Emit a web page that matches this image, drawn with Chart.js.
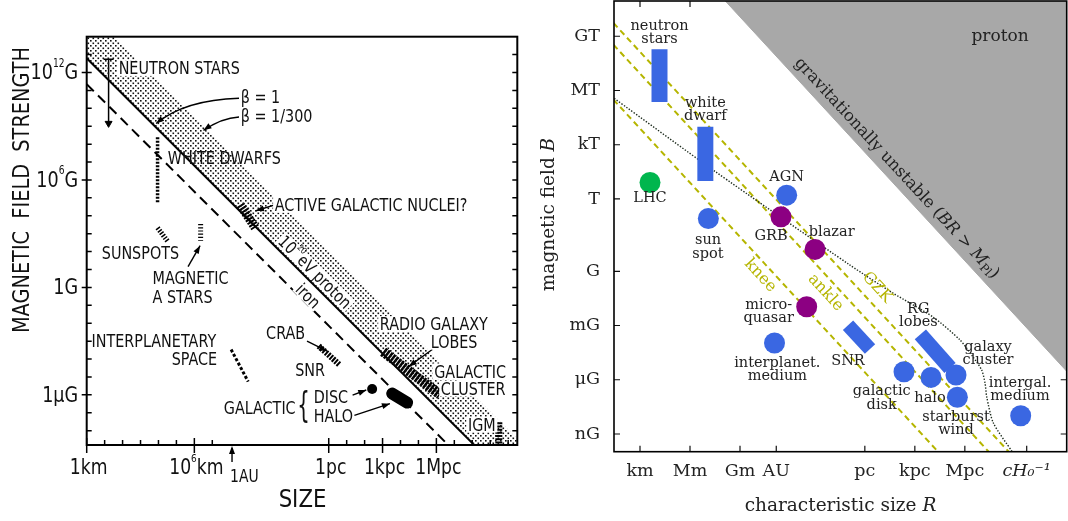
<!DOCTYPE html>
<html>
<head>
<meta charset="utf-8">
<script src="https://cdn.jsdelivr.net/npm/chart.js@4.4.0/dist/chart.umd.min.js"></script>
<style>
  html, body { margin: 0; padding: 0; background: #fff; }
  #wrap { position: relative; width: 1068px; height: 521px; }
  canvas { position: absolute; top: 0; }
  #hillas { left: 0; }
  #modern { left: 530px; }
</style>
</head>
<body>
<div id="wrap">
  <canvas id="hillas" width="530" height="521"></canvas>
  <canvas id="modern" width="538" height="521"></canvas>
</div>
<script>
// ---------- left panel: log10(size / km) against log10(B / gauss)
const hillasSizeTicks = [0, 6, 13.49, 16.49, 19.49];
const hillasSizeLabels = ['1km', '10^{6}km', '1pc', '1kpc', '1Mpc'];
const hillasSizeMinor = [1, 2, 3, 4, 5, 7, 14.49, 15.49, 17.49, 18.49, 20.49, 21.49, 22.49, 23.49];
const hillasFieldTicks = [12, 6, 0, -6];
const hillasFieldLabels = ['10^{12}G', '10^{6}G', '1G', '1μG'];
const hillasFieldAll = [-8, -7, -6, -5, -4, -3, -2, -1, 0, 1, 2, 3, 4, 5, 6, 7, 8, 9, 10, 11, 12, 13];

const betaOneX = [0, 24];
const betaOneY = [12.8, -11.2];
const betaSlowX = [0, 24];
const betaSlowY = [15.55, -8.45];
const ironX = [0, 24];
const ironY = [11.35, -12.65];

const hillasObjects = ['white dwarfs', 'sunspots', 'magnetic A stars', 'AGN', 'interplanetary space',
  'crab SNR', 'radio galaxy lobes', 'IGM', 'galactic halo'];
const hillasObjX0 = [3.95, 3.95, 6.35, 8.56, 8.05, 12.93, 16.52, 22.97, 17.03];
const hillasObjY0 = [8.39, 3.33, 3.54, 4.61, -3.47, -3.27, -3.59, -7.53, -5.93];
const hillasObjX1 = [3.95, 4.53, 6.35, 9.39, 9.0, 14.07, 19.7, 22.97, 17.86];
const hillasObjY1 = [4.70, 2.55, 2.6, 3.33, -5.26, -4.3, -5.99, -9.04, -6.43];
const discX = [15.91];
const discY = [-5.67];
const neutronLimitX = [1.22, 1.22];
const neutronLimitY = [12.74, 9.16];

// ---------- right panel: log10(R / m) against log10(B / gauss)
const sizeTicks = [3, 6, 9, 11.175, 16.489, 19.489, 22.489, 26.2];
const sizeLabels = ['km', 'Mm', 'Gm', 'AU', 'pc', 'kpc', 'Mpc', 'cH₀⁻¹'];
const fieldTicks = [13, 10, 7, 4, 0, -3, -6, -9];
const fieldLabels = ['GT', 'MT', 'kT', 'T', 'G', 'mG', 'μG', 'nG'];

const blueNames = ['AGN', 'sun spot', 'interplanet. medium', 'galactic disk', 'halo', 'galaxy cluster', 'starburst wind', 'intergal. medium'];
const blueX = [11.8, 7.1, 11.07, 18.84, 20.46, 21.96, 22.04, 25.84];
const blueY = [4.21, 2.92, -3.97, -5.56, -5.87, -5.74, -6.97, -7.99];
const purpleNames = ['GRB', 'blazar', 'microquasar'];
const purpleX = [11.46, 13.5, 13.0];
const purpleY = [3.01, 1.21, -1.96];
const greenNames = ['LHC'];
const greenX = [3.6];
const greenY = [4.91];

const barNames = ['neutron stars', 'white dwarf', 'SNR', 'RG lobes'];
const barX0 = [4.17, 6.92, 15.48, 19.82];
const barY0 = [12.28, 7.99, -2.98, -3.49];
const barX1 = [4.17, 6.92, 16.80, 21.6];
const barY1 = [9.37, 5.0, -4.30, -5.35];

const kneeX = [1, 21.5];
const kneeY = [9.9, -10.6];
const ankleX = [1, 24.5];
const ankleY = [12.94, -10.56];
const gzkX = [1, 25.7];
const gzkY = [14.14, -10.56];
const unstableX = [7, 28.6];
const unstableY = [16.07, -5.53];
const lossX = [1.46, 7.40, 15.60, 18.18, 20.58, 22.20, 22.98, 23.50, 23.70, 23.80, 24.20, 25.33];
const lossY = [9.56, 5.59, 0.34, -1.21, -2.53, -3.80, -4.74, -5.46, -6.18, -6.94, -8.39, -9.98];

// label anchors (data units)
const hillasNotes = [
  ['NEUTRON STARS', 1.78, 12.25, 'left', true],
  ['β = 1', 8.59, 10.66, 'left', false],
  ['β = 1/300', 8.59, 9.58, 'left', false],
  ['WHITE DWARFS', 4.52, 7.26, 'left', false],
  ['ACTIVE GALACTIC NUCLEI?', 10.48, 4.61, 'left', true],
  ['SUNSPOTS', 0.84, 1.96, 'left', false],
  ['MAGNETIC', 3.67, 0.56, 'left', false],
  ['A STARS', 3.67, -0.53, 'left', false],
  ['INTERPLANETARY', 0.27, -2.99, 'left', false],
  ['SPACE', 7.27, -3.98, 'right', false],
  ['CRAB', 10.0, -2.53, 'left', false],
  ['SNR', 11.62, -4.6, 'left', false],
  ['GALACTIC', 7.64, -6.71, 'left', false],
  ['DISC', 12.65, -6.09, 'left', false],
  ['HALO', 12.65, -7.15, 'left', false],
  ['RADIO GALAXY', 16.34, -2.05, 'left', true],
  ['LOBES', 19.17, -3.03, 'left', true],
  ['GALACTIC', 19.37, -4.69, 'left', true],
  ['CLUSTER', 19.74, -5.64, 'left', true],
  ['IGM', 21.25, -7.66, 'left', true]
];
const hillasArrows = [
  [8.49, 10.56, 5.48, 10.47, 3.87, 9.15],
  [8.49, 9.52, 7.53, 9.47, 6.51, 8.77],
  [10.48, 4.61, null, null, 9.44, 4.28],
  [5.65, 1.16, null, null, 6.32, 2.33],
  [12.28, -3.0, null, null, 13.4, -3.56],
  [14.82, -6.02, null, null, 15.58, -5.73],
  [14.92, -7.15, null, null, 16.9, -6.49],
  [19.26, -3.47, null, null, 17.95, -4.41]
];
const sourceNotes = [
  ['neutron\nstars', 4.17, 13.55], ['white\ndwarf', 6.92, 9.31], ['LHC', 3.6, 4.02],
  ['AGN', 11.8, 5.19], ['sun\nspot', 7.08, 1.70], ['GRB', 10.86, 1.94], ['blazar', 14.5, 2.18],
  ['micro-\nquasar', 10.72, -1.87], ['interplanet.\nmedium', 11.24, -5.08], ['SNR', 15.48, -4.97],
  ['galactic\ndisk', 17.5, -6.66], ['halo', 20.4, -7.03], ['RG\nlobes', 19.7, -2.11],
  ['galaxy\ncluster', 23.88, -4.18], ['starburst\nwind', 21.96, -8.08], ['intergal.\nmedium', 25.8, -6.2]
];
const energyNotes = [['knee', 10.21, -0.24], ['ankle', 14.13, -1.18], ['GZK', 17.22, -0.9]];

const blue = '#3a67e2', purple = '#8c0082', green = '#00b64e', olive = '#b5b500';
const dot = (xs, ys) => xs.map((x, i) => ({ x, y: ys[i] }));
const seg = (x0, y0, x1, y1, i) => [{ x: x0[i], y: y0[i] }, { x: x1[i], y: y1[i] }];

// ---------- lettering helpers
function splitSup(str) {
  const out = [];
  const re = /\^\{([^}]*)\}/g;
  let last = 0, m;
  while ((m = re.exec(str))) {
    if (m.index > last) out.push([str.slice(last, m.index), false]);
    out.push([m[1], true]);
    last = re.lastIndex;
  }
  if (last < str.length) out.push([str.slice(last), false]);
  return out;
}

function letter(ctx, str, x, y, size, align, opt) {
  opt = opt || {};
  const sx = opt.sx || 0.82;
  const ps = splitSup(str);
  const fontOf = sup => `${sup ? size * 0.52 : size}px "DejaVu Sans"`;
  const ws = ps.map(([t, sup]) => { ctx.font = fontOf(sup); return ctx.measureText(t).width; });
  const w = ws.reduce((s, v) => s + v, 0);
  ctx.save();
  ctx.translate(x, y);
  ctx.rotate(opt.rot || 0);
  ctx.scale(sx, 1);
  let cx = align === 'right' ? -w : align === 'center' ? -w / 2 : 0;
  if (opt.bg) {
    ctx.fillStyle = '#fff';
    ctx.fillRect(cx - 2, -size * 0.45, w + 4, size * 0.9);
  }
  ctx.fillStyle = '#111';
  ctx.textAlign = 'left';
  ctx.textBaseline = 'alphabetic';
  ps.forEach(([t, sup], i) => {
    ctx.font = fontOf(sup);
    ctx.fillText(t, cx, sup ? -size * 0.22 : size * 0.36);
    cx += ws[i];
  });
  ctx.restore();
}

function rich(ctx, pieces, x, y, size, rot) {
  const fontOf = p => `${p[1] || 'normal'} ${size * (p[2] || 1)}px "DejaVu Serif"`;
  let w = 0;
  const ws = pieces.map(p => { ctx.font = fontOf(p); const m = ctx.measureText(p[0]).width; w += m; return m; });
  ctx.save();
  ctx.translate(x, y);
  ctx.rotate(rot || 0);
  ctx.textAlign = 'left';
  ctx.textBaseline = 'middle';
  let cx = -w / 2;
  pieces.forEach((p, i) => { ctx.font = fontOf(p); ctx.fillText(p[0], cx, p[3] || 0); cx += ws[i]; });
  ctx.restore();
}

function arrowHead(ctx, fx, fy, tx, ty) {
  const a = Math.atan2(ty - fy, tx - fx);
  ctx.beginPath();
  ctx.moveTo(tx, ty);
  ctx.lineTo(tx - 8 * Math.cos(a) + 3 * Math.sin(a), ty - 8 * Math.sin(a) - 3 * Math.cos(a));
  ctx.lineTo(tx - 8 * Math.cos(a) - 3 * Math.sin(a), ty - 8 * Math.sin(a) + 3 * Math.cos(a));
  ctx.closePath();
  ctx.fill();
}

// ---------- left panel decorations
const hillasDeco = {
  id: 'hillasDeco',
  afterDatasetsDraw(chart) {
    const { ctx, chartArea: a, scales: { x, y } } = chart;
    ctx.save();
    ctx.strokeStyle = '#000';
    ctx.fillStyle = '#000';
    ctx.lineWidth = 2;
    ctx.strokeRect(a.left, a.top, a.right - a.left, a.bottom - a.top);

    ctx.lineWidth = 1.5;
    ctx.beginPath();
    hillasSizeMinor.forEach(v => { const p = x.getPixelForValue(v); ctx.moveTo(p, a.bottom); ctx.lineTo(p, a.bottom - 5); });
    hillasSizeTicks.forEach(v => { const p = x.getPixelForValue(v); ctx.moveTo(p, a.bottom - 7); ctx.lineTo(p, a.bottom + 8); });
    hillasFieldAll.forEach(v => {
      const p = y.getPixelForValue(v);
      const major = hillasFieldTicks.includes(v);
      ctx.moveTo(a.left - (major ? 5 : 0), p); ctx.lineTo(a.left + 5, p);
      ctx.moveTo(a.right, p); ctx.lineTo(a.right - 5, p);
    });
    ctx.stroke();

    // arrows
    ctx.lineWidth = 1.4;
    hillasArrows.forEach(([x0, y0, cxv, cyv, x1, y1]) => {
      const fx = x.getPixelForValue(x0), fy = y.getPixelForValue(y0);
      const tx = x.getPixelForValue(x1), ty = y.getPixelForValue(y1);
      ctx.beginPath();
      ctx.moveTo(fx, fy);
      if (cxv !== null) {
        const qx = x.getPixelForValue(cxv), qy = y.getPixelForValue(cyv);
        ctx.quadraticCurveTo(qx, qy, tx, ty);
        ctx.stroke();
        arrowHead(ctx, qx, qy, tx, ty);
      } else {
        ctx.lineTo(tx, ty);
        ctx.stroke();
        arrowHead(ctx, fx, fy, tx, ty);
      }
    });

    // texts inside
    hillasNotes.forEach(([t, nx, ny, al, bg]) => letter(ctx, t, x.getPixelForValue(nx), y.getPixelForValue(ny), 17.5, al, { bg }));
    letter(ctx, '{', x.getPixelForValue(12.09), y.getPixelForValue(-6.63) - 2, 36, 'center', { sx: 0.55 });
    const rot = Math.atan2(y.getPixelForValue(-1) - y.getPixelForValue(0), x.getPixelForValue(1) - x.getPixelForValue(0));
    letter(ctx, '10^{20}eV proton', x.getPixelForValue(12.73), y.getPixelForValue(0.87), 17, 'center', { rot, bg: true });
    letter(ctx, 'iron', x.getPixelForValue(12.35), y.getPixelForValue(-0.46), 17, 'center', { rot, bg: true });

    // tick labels and titles
    hillasFieldTicks.forEach((v, i) => letter(ctx, hillasFieldLabels[i], a.left - 8.5, y.getPixelForValue(v) - 1, 22, 'right', { sx: 0.8 }));
    hillasSizeTicks.forEach((v, i) => letter(ctx, hillasSizeLabels[i], x.getPixelForValue(v) + 2, a.bottom + 21.7, 21, 'center'));
    const au = x.getPixelForValue(8.1);
    ctx.lineWidth = 1.4;
    ctx.beginPath(); ctx.moveTo(au, a.bottom + 17); ctx.lineTo(au, a.bottom + 3); ctx.stroke();
    arrowHead(ctx, au, a.bottom + 17, au, a.bottom + 1);
    letter(ctx, '1AU', au - 2, a.bottom + 30.7, 17, 'left');
    letter(ctx, 'SIZE', (a.left + a.right) / 2 + 0.5, a.bottom + 52.5, 25, 'center', { sx: 0.85 });
    ctx.save();
    ctx.translate(a.left - 66, a.top + 153.3);
    ctx.rotate(-Math.PI / 2);
    letter(ctx, 'MAGNETIC  FIELD  STRENGTH', 0, 0, 23, 'center', { sx: 0.84 });
    ctx.restore();
    ctx.restore();
  }
};

// ---------- right panel decorations
const modernDeco = {
  id: 'modernDeco',
  beforeDatasetsDraw(chart) {
    const { ctx, chartArea: a, scales: { x, y } } = chart;
    ctx.save();
    ctx.strokeStyle = '#111';
    ctx.lineWidth = 1.2;
    ctx.beginPath();
    sizeTicks.forEach(v => {
      const p = x.getPixelForValue(v);
      ctx.moveTo(p, a.bottom); ctx.lineTo(p, a.bottom - 6);
      ctx.moveTo(p, a.top); ctx.lineTo(p, a.top + 6);
    });
    fieldTicks.forEach(v => {
      const p = y.getPixelForValue(v);
      ctx.moveTo(a.left, p); ctx.lineTo(a.left + 6, p);
      ctx.moveTo(a.right, p); ctx.lineTo(a.right - 6, p);
    });
    ctx.stroke();
    ctx.restore();
  },
  afterDatasetsDraw(chart) {
    const { ctx, chartArea: a, scales: { x, y } } = chart;
    ctx.save();
    ctx.strokeStyle = '#000';
    ctx.lineWidth = 1.6;
    ctx.strokeRect(a.left, a.top, a.right - a.left, a.bottom - a.top);

    ctx.fillStyle = '#222';
    ctx.textAlign = 'center';
    ctx.textBaseline = 'middle';
    ctx.font = '14.5px "DejaVu Serif"';
    sourceNotes.forEach(([t, nx, ny]) => t.split('\n').forEach((line, i) =>
      ctx.fillText(line, x.getPixelForValue(nx), y.getPixelForValue(ny) + i * 13.3)));
    ctx.font = '17px "DejaVu Serif"';
    ctx.fillText('proton', x.getPixelForValue(24.6), y.getPixelForValue(12.96));

    const rot = Math.atan2(y.getPixelForValue(-1) - y.getPixelForValue(0), x.getPixelForValue(1) - x.getPixelForValue(0));
    ctx.fillStyle = olive;
    energyNotes.forEach(([t, nx, ny]) => rich(ctx, [[t]], x.getPixelForValue(nx), y.getPixelForValue(ny), 16, rot));
    ctx.fillStyle = '#222';
    rich(ctx, [['gravitationally unstable ('], ['BR', 'italic'], [' > '], ['M', 'italic'], ['Pl', 'normal', 0.7, 4], [')']],
      x.getPixelForValue(18.4), y.getPixelForValue(5.69), 16.5, rot);

    rich(ctx, [['characteristic size '], ['R', 'italic']], 310.5, 506, 18.5, 0);
    rich(ctx, [['magnetic field '], ['B', 'italic']], 19, 214.5, 18.5, -Math.PI / 2);
    ctx.restore();
  }
};

// ---------- left chart
const hillasCanvas = document.getElementById('hillas');
const tile = document.createElement('canvas');
tile.width = 5;
tile.height = 5;
const tctx = tile.getContext('2d');
tctx.fillStyle = '#111';
tctx.fillRect(0, 0, 1.6, 1.6);
tctx.fillRect(2.5, 2.5, 1.6, 1.6);
const stipple = hillasCanvas.getContext('2d').createPattern(tile, 'repeat');

const hillasObjWidth = [3.5, 5, 5, 9, 3, 6, 10, 7, 12];
const hillasObjDash = [[2, 1.5], [1.5, 1.5], [1.2, 2], [2, 1.2], [3, 2], [2, 1.2], [2.5, 1], [2, 1.2], []];

new Chart(hillasCanvas, {
  type: 'line',
  data: {
    datasets: [
      { label: 'β = 1/300', data: dot(betaSlowX, betaSlowY), borderColor: 'rgba(0,0,0,0)', borderWidth: 1, fill: '+1', backgroundColor: stipple, pointRadius: 0 },
      { label: 'β = 1', data: dot(betaOneX, betaOneY), borderColor: '#000', borderWidth: 2, pointRadius: 0 },
      { label: 'iron', data: dot(ironX, ironY), borderColor: '#000', borderWidth: 2, borderDash: [10, 6], pointRadius: 0 },
      ...hillasObjects.map((name, i) => ({
        label: name,
        data: seg(hillasObjX0, hillasObjY0, hillasObjX1, hillasObjY1, i),
        borderColor: '#000',
        borderWidth: hillasObjWidth[i],
        borderDash: hillasObjDash[i],
        borderCapStyle: name === 'galactic halo' ? 'round' : 'butt',
        pointRadius: 0
      })),
      { label: 'galactic disc', data: dot(discX, discY), showLine: false, pointRadius: 5, pointBackgroundColor: '#000', pointBorderWidth: 0 },
      {
        label: 'neutron stars', data: dot(neutronLimitX, neutronLimitY), borderColor: '#000', borderWidth: 1.5,
        pointStyle: ['line', 'triangle'], rotation: [0, 180], pointRadius: [5, 4],
        pointBorderColor: '#000', pointBackgroundColor: '#000', pointBorderWidth: [1.5, 1]
      }
    ]
  },
  options: {
    responsive: false,
    animation: false,
    events: [],
    devicePixelRatio: 1,
    layout: { autoPadding: false, padding: { left: 86.7, top: 36.7, right: 12.7, bottom: 76 } },
    scales: {
      x: { type: 'linear', min: 0, max: 24, display: false },
      y: { type: 'linear', min: -8.8, max: 14, display: false }
    },
    elements: { line: { tension: 0 } },
    plugins: { legend: { display: false }, tooltip: { enabled: false } }
  },
  plugins: [hillasDeco]
});

// ---------- right chart
const barWidths = [16, 16, 14, 15];

new Chart(document.getElementById('modern'), {
  type: 'line',
  data: {
    datasets: [
      { label: greenNames[0], data: dot(greenX, greenY), showLine: false, pointRadius: 10.5, pointBackgroundColor: green, pointBorderWidth: 0, order: 0 },
      { label: 'blue sources', data: dot(blueX, blueY), showLine: false, pointRadius: 10.5, pointBackgroundColor: blue, pointBorderWidth: 0, order: 0 },
      { label: 'purple sources', data: dot(purpleX, purpleY), showLine: false, pointRadius: 10.5, pointBackgroundColor: purple, pointBorderWidth: 0, order: 0 },
      ...barNames.map((name, i) => ({
        label: name,
        data: seg(barX0, barY0, barX1, barY1, i),
        borderColor: blue, borderWidth: barWidths[i], borderCapStyle: 'butt', pointRadius: 0, order: 1
      })),
      { label: 'losses', data: dot(lossX, lossY), borderColor: '#1c2a1c', borderWidth: 1.4, borderDash: [1.4, 1.6], tension: 0.25, pointRadius: 0, order: 2 },
      { label: 'knee', data: dot(kneeX, kneeY), borderColor: olive, borderWidth: 2, borderDash: [6, 4], pointRadius: 0, order: 2 },
      { label: 'ankle', data: dot(ankleX, ankleY), borderColor: olive, borderWidth: 2, borderDash: [6, 4], pointRadius: 0, order: 2 },
      { label: 'GZK', data: dot(gzkX, gzkY), borderColor: olive, borderWidth: 2, borderDash: [6, 4], pointRadius: 0, order: 2 },
      { label: 'gravitationally unstable', data: dot(unstableX, unstableY), borderColor: '#a8a8a8', borderWidth: 1, fill: 'end', backgroundColor: '#a8a8a8', pointRadius: 0, order: 3 }
    ]
  },
  options: {
    responsive: false,
    animation: false,
    events: [],
    devicePixelRatio: 1,
    layout: { autoPadding: false, padding: { top: 1, right: 1.3, left: 0, bottom: 0 } },
    scales: {
      x: {
        type: 'linear', min: 1.44, max: 28.6,
        afterBuildTicks: s => { s.ticks = sizeTicks.map(v => ({ value: v })); },
        afterFit: s => { s.height = 69.3; s.paddingLeft = 0; s.paddingRight = 0; },
        grid: { display: false }, border: { display: false },
        ticks: {
          autoSkip: false, maxRotation: 0, padding: 1, color: '#222',
          font: c => ({ family: 'DejaVu Serif', size: 17.5, style: c.index === sizeTicks.length - 1 ? 'italic' : 'normal' }),
          callback: v => sizeLabels[sizeTicks.indexOf(v)]
        }
      },
      y: {
        type: 'linear', min: -9.98, max: 14.95,
        afterBuildTicks: s => { s.ticks = fieldTicks.map(v => ({ value: v })); },
        afterFit: s => { s.width = 84; s.paddingTop = 0; s.paddingBottom = 0; },
        grid: { display: false }, border: { display: false },
        ticks: {
          autoSkip: false, padding: 6, color: '#222',
          font: { family: 'DejaVu Serif', size: 17.5 },
          callback: v => fieldLabels[fieldTicks.indexOf(v)]
        }
      }
    },
    elements: { line: { tension: 0 } },
    plugins: { legend: { display: false }, tooltip: { enabled: false } }
  },
  plugins: [modernDeco]
});
</script>
</body>
</html>
